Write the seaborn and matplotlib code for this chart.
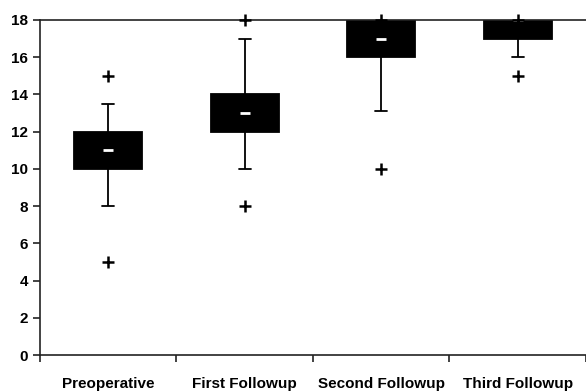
import pandas as pd
import matplotlib.pyplot as plt
import seaborn as sns

# Values
categories = ['Preoperative', 'First Followup', 'Second Followup', 'Third Followup']
whisk_lo = [8, 10, 13.1, 16]
q1 = [10, 12, 16, 17]
medians = [11, 13, 17, 18]
q3 = [12, 14, 18, 18]
whisk_hi = [13.5, 17, 18, 18]
mins = [5, 8, 10, 15]
maxs = [15, 18, 18, 18]

# five-number summary per stage -> boxplot with whiskers at 0/100 pct
box_data = pd.DataFrame({
    'Stage': [c for c in categories for _ in range(5)],
    'Score': [v for i in range(len(categories))
              for v in (whisk_lo[i], q1[i], medians[i], q3[i], whisk_hi[i])],
})
extremes = pd.DataFrame({
    'Stage': categories + categories,
    'Score': mins + maxs,
})
median_df = pd.DataFrame({'Stage': categories, 'Score': medians})

sns.set_style('white')
plt.rcParams['font.family'] = ['Liberation Sans', 'DejaVu Sans']
plt.rcParams['text.color'] = 'black'
plt.rcParams['xtick.color'] = '#222222'
plt.rcParams['ytick.color'] = '#222222'
plt.rcParams['xtick.labelcolor'] = 'black'
plt.rcParams['ytick.labelcolor'] = 'black'

fig = plt.figure(figsize=(5.86, 3.92), dpi=100)
ax = fig.add_axes([0.068, 0.094, 0.932, 0.855])

sns.boxplot(data=box_data, x='Stage', y='Score', order=categories,
            whis=(0, 100), width=0.5, color='black', saturation=1,
            linecolor='black', linewidth=1.3, showfliers=False,
            capwidths=0.09, ax=ax)

# short white median dashes
sns.stripplot(data=median_df, x='Stage', y='Score', order=categories,
              jitter=False, marker='_', color='white', size=7,
              linewidth=2, zorder=2.2, ax=ax)

# min / max as plus signs
sns.stripplot(data=extremes, x='Stage', y='Score', order=categories,
              jitter=False, marker='+', color='black', size=8,
              linewidth=1.8, zorder=3, clip_on=False, ax=ax)

ax.set_ylim(0, 18)
ax.set_xlim(-0.5, 3.5)
ax.set_yticks(range(0, 19, 2))
ax.set_xlabel('')
ax.set_ylabel('')
ax.set_xticks([-0.5, 0.5, 1.5, 2.5, 3.5], minor=True)
ax.tick_params(axis='x', which='major', bottom=True, length=0, pad=16, labelsize=11)
ax.tick_params(axis='x', which='minor', bottom=True, length=5, width=1.2, direction='out')
ax.tick_params(axis='y', left=True, length=5, width=1.2, direction='out', labelsize=11)
for lab in ax.get_xticklabels() + ax.get_yticklabels():
    lab.set_fontweight('bold')

for side in ['left', 'bottom', 'top']:
    ax.spines[side].set_color('#222222')
    ax.spines[side].set_linewidth(1.2)
ax.spines['right'].set_visible(False)

plt.savefig('out.png', dpi=100)
